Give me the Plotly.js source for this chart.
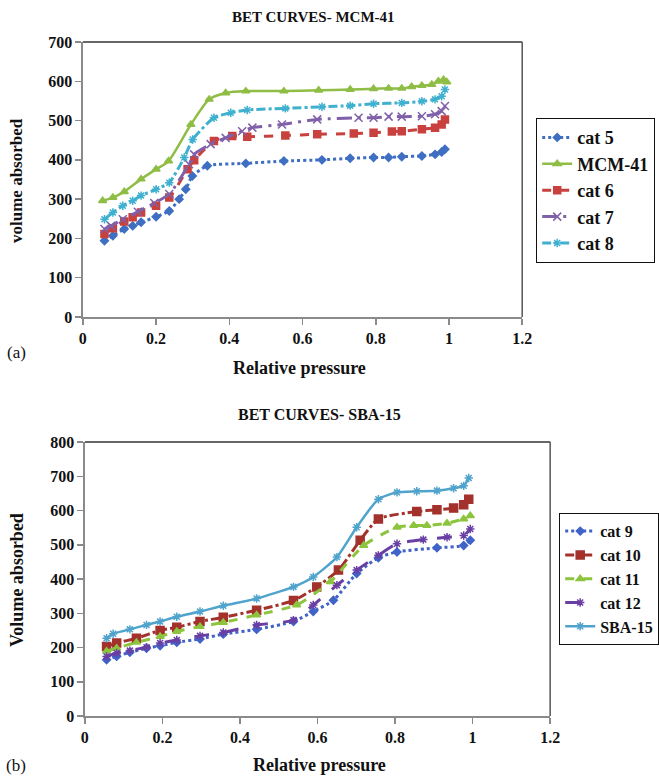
<!DOCTYPE html>
<html>
<head>
<meta charset="utf-8">
<script src="https://cdn.plot.ly/plotly-3.0.1.min.js"></script>
<style>html,body{margin:0;padding:0;background:#fff;}#chart{width:659px;height:778px;}</style>
</head>
<body>
<div id="chart"></div>
<script>
// ---- Chart (a): BET CURVES- MCM-41 ----
const cat5_x = [0.059,0.082,0.113,0.136,0.159,0.2,0.236,0.263,0.281,0.299,0.34,0.445,0.549,0.653,0.73,0.794,0.835,0.871,0.926,0.962,0.98,0.989];
const cat5_y = [194,207,224,232,241,255,270,300,325,359,385,391,397,400,404,406,406,408,410,414,420,427];
const mcm41_x = [0.054,0.082,0.113,0.159,0.2,0.234,0.295,0.345,0.39,0.445,0.549,0.644,0.73,0.794,0.835,0.871,0.898,0.926,0.953,0.971,0.985,0.994];
const mcm41_y = [296,304,319,351,376,397,490,554,570,575,575,577,579,581,582,582,586,589,592,600,604,598];
const cat6_x = [0.059,0.082,0.113,0.136,0.159,0.2,0.236,0.286,0.304,0.358,0.408,0.449,0.553,0.64,0.74,0.794,0.844,0.871,0.926,0.962,0.98,0.989];
const cat6_y = [211,226,243,254,266,283,304,376,399,448,461,459,462,465,467,469,472,473,478,482,490,503];
const cat7_x = [0.059,0.077,0.109,0.15,0.195,0.236,0.29,0.304,0.349,0.39,0.435,0.463,0.544,0.64,0.753,0.794,0.835,0.871,0.926,0.962,0.98,0.989];
const cat7_y = [224,232,249,268,290,313,389,414,440,456,473,482,490,503,507,507,510,510,511,516,524,537];
const cat8_x = [0.059,0.082,0.109,0.136,0.159,0.2,0.236,0.277,0.3,0.358,0.404,0.449,0.553,0.653,0.73,0.794,0.871,0.926,0.962,0.98,0.989];
const cat8_y = [249,266,283,296,309,325,342,406,452,507,520,527,531,535,538,543,545,549,554,562,579];

// ---- Chart (b): BET CURVES- SBA-15 ----
const cat9_x = [0.056,0.082,0.116,0.159,0.194,0.237,0.297,0.357,0.443,0.538,0.589,0.641,0.701,0.757,0.805,0.908,0.977,0.994];
const cat9_y = [164,174,186,198,205,215,225,239,253,276,305,338,416,462,479,491,498,513];
const cat10_x = [0.056,0.082,0.133,0.194,0.237,0.297,0.357,0.443,0.538,0.598,0.654,0.71,0.757,0.856,0.908,0.951,0.977,0.99];
const cat10_y = [203,213,227,250,259,276,288,309,337,377,426,513,575,597,602,607,617,633];
const cat11_x = [0.056,0.082,0.133,0.194,0.237,0.297,0.357,0.443,0.546,0.633,0.719,0.805,0.848,0.882,0.934,0.977,0.994];
const cat11_y = [189,198,215,232,247,261,273,295,324,392,498,551,556,556,563,575,585];
const cat12_x = [0.056,0.082,0.116,0.159,0.194,0.237,0.297,0.357,0.443,0.538,0.589,0.65,0.701,0.757,0.805,0.873,0.934,0.977,0.994];
const cat12_y = [174,184,191,201,213,222,234,244,266,280,324,382,426,469,503,515,522,527,546];
const sba15_x = [0.056,0.073,0.116,0.159,0.194,0.237,0.297,0.357,0.443,0.538,0.589,0.65,0.701,0.757,0.805,0.856,0.908,0.951,0.977,0.99];
const sba15_y = [227,240,253,266,276,290,305,322,343,377,406,464,551,633,653,656,658,665,672,695];

const xTicks = [0,0.2,0.4,0.6,0.8,1,1.2];
const xTickText = ['0','0.2','0.4','0.6','0.8','1','1.2'];

const serif = '"Liberation Serif", "Times New Roman", Times, serif';

function tr(name, x, y, color, dash, symbol, msize, xa, ya, leg, width) {
  return {
    type: 'scatter', mode: 'lines+markers', name: name, x: x, y: y,
    xaxis: xa, yaxis: ya, legend: leg,
    line: {color: color, dash: dash, width: width || 3, shape: 'spline', smoothing: 0.6},
    marker: {color: color, symbol: symbol, size: msize, line: {color: color, width: 1.5}}
  };
}

const data = [
  tr('cat 5', cat5_x, cat5_y, '#3f6fc2', 'dot', 'diamond', 6, 'x', 'y', 'legend'),
  tr('MCM-41', mcm41_x, mcm41_y, '#8fbd45', 'solid', 'triangle-up', 7, 'x', 'y', 'legend', 2.5),
  tr('cat 6', cat6_x, cat6_y, '#c9413e', 'dash', 'square', 7, 'x', 'y', 'legend'),
  tr('cat 7', cat7_x, cat7_y, '#8060a8', 'longdashdot', 'x-thin-open', 8, 'x', 'y', 'legend'),
  tr('cat 8', cat8_x, cat8_y, '#3fb0cf', 'dashdot', 'asterisk-open', 7, 'x', 'y', 'legend'),
  tr('cat 9', cat9_x, cat9_y, '#4063c8', 'dot', 'diamond', 6, 'x2', 'y2', 'legend2'),
  tr('cat 10', cat10_x, cat10_y, '#a3312c', 'dashdot', 'square', 8, 'x2', 'y2', 'legend2'),
  tr('cat 11', cat11_x, cat11_y, '#8cc43e', 'dash', 'triangle-up', 7, 'x2', 'y2', 'legend2'),
  tr('cat 12', cat12_x, cat12_y, '#6a3fa4', 'longdash', 'asterisk-open', 7, 'x2', 'y2', 'legend2'),
  tr('SBA-15', sba15_x, sba15_y, '#4fa3cc', 'solid', 'asterisk-open', 7, 'x2', 'y2', 'legend2', 2.5)
];

const tickFont = {family: serif, size: 16, color: '#111', weight: 'bold'};

function xAxis(domain, anchor) {
  return {
    domain: domain, anchor: anchor, range: [0, 1.2], tickvals: xTicks, ticktext: xTickText,
    showgrid: false, zeroline: false, showline: true, linecolor: '#8a8a8a', linewidth: 1.5,
    ticks: 'outside', ticklen: 6, tickcolor: '#8a8a8a', tickwidth: 1.5, tickfont: tickFont
  };
}
function yAxis(domain, anchor, max) {
  return {
    domain: domain, anchor: anchor, range: [0, max], dtick: 100,
    showgrid: false, zeroline: false, showline: true, linecolor: '#8a8a8a', linewidth: 1.5,
    ticks: 'outside', ticklen: 6, tickcolor: '#8a8a8a', tickwidth: 1.5, tickfont: tickFont
  };
}

const W = 659, H = 778;
const px = v => v / W, py = v => (H - v) / H;

function ann(text, x, y, size, bold, angle) {
  return {text: text, xref: 'paper', yref: 'paper', x: px(x), y: py(y), xanchor: 'center', yanchor: 'middle',
    textangle: angle || 0, showarrow: false,
    font: {family: serif, size: size, color: '#111', weight: bold ? 'bold' : 'normal'}};
}

const layout = {
  width: W, height: H, margin: {l: 0, r: 0, t: 0, b: 0},
  paper_bgcolor: '#fff', plot_bgcolor: '#fff', showlegend: true,
  xaxis: xAxis([px(83), px(523)], 'y'),
  yaxis: yAxis([py(317), py(42)], 'x', 700),
  xaxis2: xAxis([px(85), px(551)], 'y2'),
  yaxis2: yAxis([py(716), py(442)], 'x2', 800),
  legend: {
    x: px(536), y: py(118), xanchor: 'left', yanchor: 'top',
    bordercolor: '#111', borderwidth: 1.2, bgcolor: '#fff',
    font: {family: serif, size: 18, color: '#111', weight: 'bold'},
    itemwidth: 30, tracegroupgap: 0
  },
  legend2: {
    x: px(560), y: py(513), xanchor: 'left', yanchor: 'top',
    bordercolor: '#111', borderwidth: 1.2, bgcolor: '#fff',
    font: {family: serif, size: 16, color: '#111', weight: 'bold'},
    itemwidth: 30, tracegroupgap: 0
  },
  shapes: [
    {type: 'line', xref: 'x domain', yref: 'y domain', x0: 0, x1: 1, y0: 1, y1: 1, line: {color: '#333', width: 1.5}},
    {type: 'line', xref: 'x domain', yref: 'y domain', x0: 1, x1: 1, y0: 0, y1: 1, line: {color: '#555', width: 1.5}},
    {type: 'line', xref: 'x2 domain', yref: 'y2 domain', x0: 0, x1: 1, y0: 1, y1: 1, line: {color: '#333', width: 1.5}},
    {type: 'line', xref: 'x2 domain', yref: 'y2 domain', x0: 1, x1: 1, y0: 0, y1: 1, line: {color: '#555', width: 1.5}}
  ],
  annotations: [
    ann('BET CURVES- MCM-41', 314, 17, 15, true),
    ann('volume absorbed', 17, 180, 17, true, -90),
    ann('Relative pressure', 300, 368, 18, true),
    ann('(a)', 17, 352, 17, false),
    ann('BET CURVES- SBA-15', 320, 414, 16, true),
    ann('Volume absorbed', 17, 580, 18, true, -90),
    ann('Relative pressure', 320, 765, 18, true),
    ann('(b)', 16, 765, 17, false)
  ]
};

Plotly.newPlot('chart', data, layout, {staticPlot: true, displayModeBar: false});
</script>
</body>
</html>
